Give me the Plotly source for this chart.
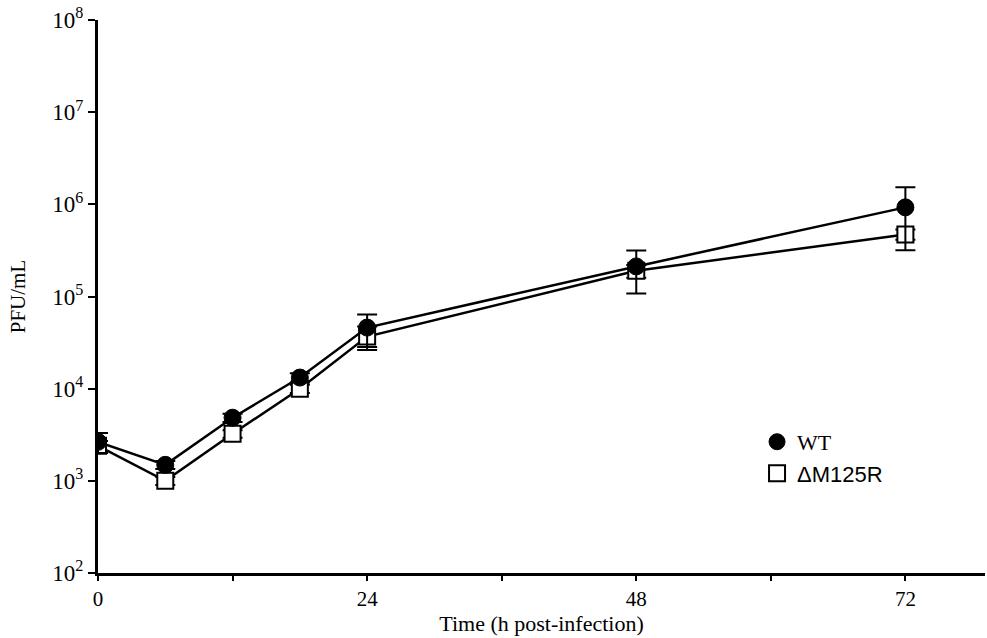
import plotly.graph_objects as go

time_h = [0, 6, 12, 18, 24, 48, 72]
wt_pfu = [2650, 1490, 4840, 13200, 46000, 212000, 927000]
wt_err = [650, 150, 500, 1500, 17700, 104000, 610000]
dm_pfu = [2400, 1000, 3240, 10000, 36700, 190000, 472000]
dm_err = [300, 100, 300, 1000, 10500, 30000, 60000]

y_tickvals = [1e2, 1e3, 1e4, 1e5, 1e6, 1e7, 1e8]
y_ticktext = ["10<sup>%d</sup>" % e for e in range(2, 9)]
x_tickvals = [0, 12, 24, 36, 48, 60, 72]
x_ticktext = ["0", "", "24", "", "48", "", "72"]

serif = "Liberation Serif, Times New Roman, serif"
sans = "Liberation Sans, Arial, sans-serif"

wt_style = dict(symbol="circle", size=17, color="black", line=dict(color="black", width=1))
dm_style = dict(symbol="square", size=16, color="white", line=dict(color="black", width=2))

fig = go.Figure()

fig.add_trace(go.Scatter(
    x=time_h, y=dm_pfu, mode="lines+markers", showlegend=False,
    line=dict(color="black", width=2.5), marker=dm_style,
    error_y=dict(type="data", array=dm_err, color="black", thickness=2, width=10),
))
fig.add_trace(go.Scatter(
    x=time_h, y=wt_pfu, mode="lines+markers", showlegend=False,
    line=dict(color="black", width=2.5), marker=wt_style,
    error_y=dict(type="data", array=wt_err, color="black", thickness=2, width=10),
))
# legend-only entries (markers without line)
fig.add_trace(go.Scatter(
    x=[None], y=[None], mode="markers", legendrank=1,
    name='<span style="font-family:Liberation Serif, Times New Roman, serif">WT</span>',
    marker=wt_style,
))
fig.add_trace(go.Scatter(
    x=[None], y=[None], mode="markers", legendrank=2,
    name='<span style="font-family:Liberation Sans, Arial, sans-serif">ΔM125R</span>',
    marker=dm_style,
))

fig.update_layout(
    width=987, height=638,
    margin=dict(l=98, r=2, t=20, b=65),
    plot_bgcolor="white", paper_bgcolor="white",
    font=dict(family=serif, size=20, color="black"),
    showlegend=True,
    legend=dict(x=0.743, y=0.275, xanchor="left", yanchor="top",
                bgcolor="rgba(0,0,0,0)", font=dict(size=22, family=serif),
                tracegroupgap=4),
    xaxis=dict(
        range=[0, 79.1], showline=True, linecolor="black", linewidth=3,
        tickvals=x_tickvals, ticktext=x_ticktext, ticks="outside",
        ticklen=5, tickwidth=2, tickcolor="black", showgrid=False, zeroline=False,
        tickfont=dict(family=serif, size=21),
        title=dict(text="Time (h post-infection)", font=dict(family=serif, size=22), standoff=2),
    ),
    yaxis=dict(
        type="log", range=[2, 8], showline=True, linecolor="black", linewidth=3,
        tickvals=y_tickvals, ticktext=y_ticktext, ticks="outside",
        ticklen=7, tickwidth=2, tickcolor="black", showgrid=False, zeroline=False,
        tickfont=dict(family=serif, size=23),
        title=dict(text="PFU/mL", font=dict(family=serif, size=21), standoff=22),
    ),
)

fig.write_html("out.html")
